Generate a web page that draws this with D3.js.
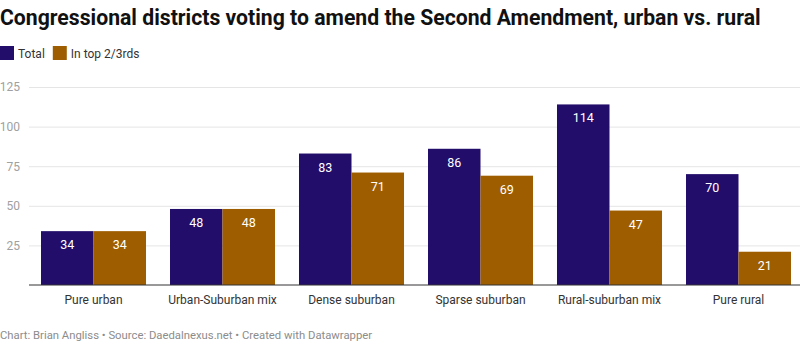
<!DOCTYPE html>
<html>
<head>
<meta charset="utf-8">
<script src="https://cdn.jsdelivr.net/npm/d3@7"></script>
<style>
  body { margin: 0; background: #fff; font-family: Roboto, sans-serif; }
  svg text { font-family: Roboto, sans-serif; }
</style>
</head>
<body>
<div id="chart"></div>
<script>
// Données
const categories = ['Pure urban', 'Urban-Suburban mix', 'Dense suburban', 'Sparse suburban', 'Rural-suburban mix', 'Pure rural'];
const seriesNames = ['Total', 'In top 2/3rds'];
const totalValues = [34, 48, 83, 86, 114, 70];
const topValues = [34, 48, 71, 69, 47, 21];
const yTicks = [25, 50, 75, 100, 125];
const colors = ['#220d6b', '#9e5e00'];

const width = 800, height = 350;
const margin = { top: 87, right: 0, bottom: 65, left: 29 };

const svg = d3.select('#chart').append('svg')
    .attr('width', width)
    .attr('height', height);

// Titre
svg.append('text')
    .attr('x', 0).attr('y', 25)
    .attr('font-size', 21.2).attr('font-weight', 700)
    .attr('fill', '#111')
    .text('Congressional districts voting to amend the Second Amendment, urban vs. rural');

// Légende
const legend = svg.append('g').attr('transform', 'translate(0,46)');
let lx = 0;
seriesNames.forEach((name, i) => {
    legend.append('rect').attr('x', lx).attr('y', 0).attr('width', 14).attr('height', 14).attr('fill', colors[i]);
    const t = legend.append('text').attr('x', lx + 18).attr('y', 11.5)
        .attr('font-size', 12).attr('fill', '#333').text(name);
    lx += 18 + t.node().getComputedTextLength() + 8;
});

// Échelles
const x0 = d3.scaleBand()
    .domain(categories)
    .range([margin.left, width + 3])
    .paddingInner(0.186)
    .paddingOuter(0.093);

const x1 = d3.scaleBand()
    .domain(seriesNames)
    .range([0, x0.bandwidth()]);

const y = d3.scaleLinear()
    .domain([0, 125])
    .range([height - margin.bottom, margin.top]);

// Grille et axe Y
const yAxis = svg.append('g')
    .attr('transform', `translate(${margin.left},0)`)
    .call(d3.axisLeft(y).tickValues(yTicks).tickSize(-(width - margin.left)).tickPadding(9));
yAxis.select('.domain').remove();
yAxis.selectAll('.tick line').attr('stroke', '#e5e5e5');
yAxis.selectAll('.tick text').attr('fill', '#a0a0a0').attr('font-size', 12).attr('font-family', 'Roboto, sans-serif');

// Barres
const groups = svg.append('g').selectAll('g')
    .data(categories)
    .join('g')
    .attr('transform', d => `translate(${x0(d)},0)`);

groups.selectAll('rect')
    .data((d, i) => [totalValues[i], topValues[i]].map((v, j) => ({ key: seriesNames[j], value: v, idx: j })))
    .join('rect')
    .attr('x', d => x1(d.key))
    .attr('y', d => y(d.value))
    .attr('width', x1.bandwidth())
    .attr('height', d => y(0) - y(d.value))
    .attr('fill', d => colors[d.idx]);

groups.selectAll('text')
    .data((d, i) => [totalValues[i], topValues[i]].map((v, j) => ({ key: seriesNames[j], value: v })))
    .join('text')
    .attr('x', d => x1(d.key) + x1.bandwidth() / 2)
    .attr('y', d => y(d.value) + 18)
    .attr('text-anchor', 'middle')
    .attr('font-size', 12.5)
    .attr('fill', '#fff')
    .text(d => d.value);

// Axe X
const xAxis = svg.append('g')
    .attr('transform', `translate(0,${y(0)})`)
    .call(d3.axisBottom(x0).tickSize(0).tickPadding(10));
xAxis.select('.domain').remove();
xAxis.selectAll('.tick text').attr('fill', '#333').attr('font-size', 12).attr('font-family', 'Roboto, sans-serif');

svg.append('line')
    .attr('x1', margin.left).attr('x2', width)
    .attr('y1', y(0)).attr('y2', y(0))
    .attr('stroke', '#333').attr('stroke-width', 1);

// Pied de page
svg.append('text')
    .attr('x', 0).attr('y', 339)
    .attr('font-size', 11.3).attr('fill', '#8c8c8c')
    .text('Chart: Brian Angliss • Source: Daedalnexus.net • Created with Datawrapper');
</script>
</body>
</html>
